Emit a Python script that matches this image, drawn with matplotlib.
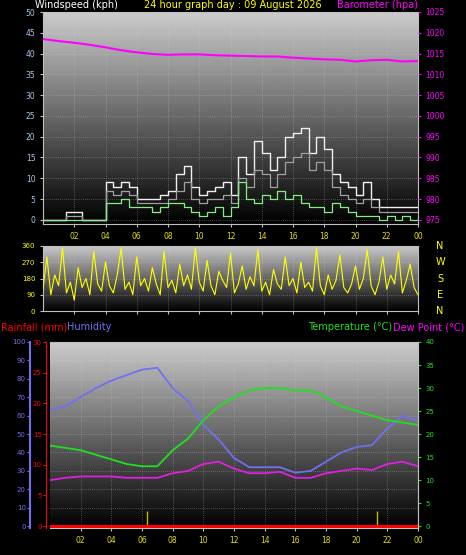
"""24-hour weather station graph: wind/baro, wind direction, temp/humidity/rain."""

import matplotlib

matplotlib.use("Agg")
import matplotlib.pyplot as plt
import numpy as np

W, H = 466, 555

HOURS = list(range(25))
HALF_HOURS = [h * 0.5 for h in range(49)]
QUARTER_HOURS = [h * 0.25 for h in range(97)]

BARO = [1018.5, 1018.0, 1017.6, 1017.1, 1016.5, 1015.8, 1015.3, 1014.9, 1014.7,
        1014.8, 1014.8, 1014.6, 1014.5, 1014.4, 1014.3, 1014.3, 1014.0, 1013.8,
        1013.6, 1013.5, 1013.1, 1013.4, 1013.5, 1013.1, 1013.2]

GUST = [0, 0, 0, 2, 2, 0, 0, 0, 9, 8, 9, 8, 5, 5, 5, 6, 7, 11, 13, 8, 6, 7, 8, 9,
        6, 15, 11, 19, 16, 12, 15, 20, 21, 22, 16, 20, 17, 11, 9, 8, 6, 9, 5, 3,
        3, 3, 3, 3, 3]
WIND_AVG = [0, 0, 0, 1, 1, 0, 0, 0, 7, 6, 7, 6, 4, 4, 4, 4, 5, 7, 9, 5, 4, 5, 5, 6,
            4, 10, 8, 12, 11, 8, 11, 14, 15, 16, 12, 14, 12, 8, 6, 5, 4, 5, 3, 2,
            2, 2, 2, 2, 2]
WIND = [0, 0, 0, 0, 0, 0, 0, 0, 4, 4, 5, 3, 3, 3, 2, 3, 4, 4, 3, 2, 1, 2, 3, 1,
        3, 9, 5, 4, 6, 5, 7, 5, 6, 4, 3, 3, 2, 4, 3, 2, 1, 1, 1, 0, 1, 0, 1, 0, 1]

WIND_DIR = [120, 300, 90, 200, 140, 350, 100, 160, 60, 240, 130, 180, 90, 330, 150,
            110, 270, 140, 100, 200, 350, 120, 160, 90, 300, 140, 180, 110, 240, 150,
            90, 330, 130, 170, 100, 260, 140, 200, 120, 350, 160, 110, 280, 140, 90,
            220, 170, 130, 320, 100, 150, 250, 120, 190, 140, 340, 110, 160, 90, 230,
            150, 120, 300, 140, 180, 100, 270, 130, 160, 110, 350, 140, 90, 200, 120,
            170, 310, 130, 100, 150, 250, 120, 180, 340, 140, 90, 160, 300, 120, 200,
            150, 330, 100, 170, 260, 130, 90]

HUMIDITY = [63, 65, 70, 75, 79, 82, 85, 86, 75, 68, 55, 47, 37, 32, 32, 32, 29, 30,
            35, 40, 43, 44, 53, 60, 57]
TEMP = [17.5, 17.0, 16.5, 15.5, 14.5, 13.5, 13.0, 13.0, 16.5, 19.0, 23.0, 26.0,
        28.0, 29.5, 30.0, 30.0, 29.5, 29.5, 28.0, 26.0, 25.0, 24.0, 23.0, 22.5, 22.0]
DEW = [10.0, 10.5, 10.8, 10.8, 10.8, 10.5, 10.5, 10.5, 11.5, 12.0, 13.5, 14.0,
       12.5, 11.5, 11.5, 11.8, 10.5, 10.5, 11.5, 12.0, 12.5, 12.2, 13.5, 14.0, 13.0]
RAIN = [0] * 25
RAIN_MARKS = [6.3, 21.3]

XTICKS = list(range(2, 25, 2))
XLABELS = [f"{h % 24:02d}" for h in XTICKS]


def px_axes(fig, x0, y0, x1, y1):
    return fig.add_axes([x0 / W, 1 - y1 / H, (x1 - x0) / W, (y1 - y0) / H])


def backdrop(ax, ymin, ymax):
    grad = np.linspace(0.80, 0.0, 256).reshape(-1, 1)
    ax.imshow(grad, cmap="gray", vmin=0, vmax=1, aspect="auto",
              extent=[0, 24, ymin, ymax], zorder=0)
    ax.set_facecolor("black")
    for s in ax.spines.values():
        s.set_color("#c0c0c0")
    ax.grid(True, color="#d0d0d0", linestyle=(0, (1, 2)), linewidth=0.5, alpha=0.6)
    ax.set_xlim(0, 24)
    ax.set_ylim(ymin, ymax)
    ax.set_xticks(XTICKS, XLABELS)
    ax.tick_params(axis="x", colors="#c0c0c0", labelcolor="#e0e000", labelsize=5.5,
                   length=2)


fig = plt.figure(figsize=(W / 100, H / 100), dpi=100, facecolor="black")

# top: wind speed + barometer
ax1 = px_axes(fig, 43, 12, 418, 224)
backdrop(ax1, -1, 50)
ax1.step(HALF_HOURS, GUST, where="post", color="#f0f0f0", lw=1.0, zorder=3)
ax1.step(HALF_HOURS, WIND_AVG, where="post", color="#a0a0a0", lw=0.9, zorder=3)
ax1.step(HALF_HOURS, WIND, where="post", color="#80f080", lw=0.9, zorder=4)
ax1.set_yticks(range(0, 51, 5))
ax1.tick_params(axis="y", colors="#c0c0c0", labelcolor="#a8c8f0", labelsize=5.5,
                length=2)
ax1b = ax1.twinx()
ax1b.set_ylim(974.0, 1025)
ax1b.plot(HOURS, BARO, color="#ff00ff", lw=1.5, zorder=5)
ax1b.set_yticks(range(975, 1026, 5))
ax1b.tick_params(axis="y", colors="#ff00ff", labelcolor="#ff00ff", labelsize=5.5,
                 length=2)
for s in ax1b.spines.values():
    s.set_visible(False)

fig.text(35 / W, 1 - 5 / H, "Windspeed (kph)", color="white", fontsize=7, va="center")
fig.text(233 / W, 1 - 5 / H, "24 hour graph day : 09 August 2026", color="#ffff00",
         fontsize=7, va="center", ha="center")
fig.text(418 / W, 1 - 5 / H, "Barometer (hpa)", color="#ff00ff", fontsize=7,
         va="center", ha="right")

# middle: wind direction
ax2 = px_axes(fig, 43, 246, 418, 311)
backdrop(ax2, 0, 360)
ax2.plot(QUARTER_HOURS, WIND_DIR, color="#ffff00", lw=0.8, zorder=3)
ax2.set_yticks([0, 90, 180, 270, 360])
ax2.set_xticklabels([])
ax2.tick_params(axis="y", colors="#c0c0c0", labelcolor="#ffff00", labelsize=5,
                length=2)
for i, c in enumerate("NWSEN"):
    fig.text(440 / W, 1 - (246 + i * 16.25) / H, c, color="#ffff00", fontsize=7,
             va="center", ha="center")

# bottom: temperature, humidity, rainfall
ax3 = px_axes(fig, 50, 342, 418, 528)
backdrop(ax3, -1, 100)
ax3.plot(HOURS, HUMIDITY, color="#7070f0", lw=1.3, zorder=3)
ax3.vlines(RAIN_MARKS, 0, 8, color="#c8b400", lw=1.0, zorder=3)
ax3.set_yticks(range(0, 101, 10))
ax3.tick_params(axis="y", colors="#7070f0", labelcolor="#7070f0", labelsize=5,
                length=2, pad=1)
ax3.spines["left"].set_color("#7070f0")
ax3.spines["left"].set_linewidth(1.5)
ax3.spines["left"].set_position(("outward", 14.4))

axr = ax3.twinx()
axr.set_ylim(-0.3, 30)
axr.plot(HOURS, RAIN, color="#ff0000", lw=2.2, zorder=4)
axr.yaxis.set_ticks_position("left")
axr.set_yticks(range(0, 31, 5))
axr.tick_params(axis="y", colors="#ff0000", labelcolor="#ff0000", labelsize=5,
                length=2, pad=1)
axr.spines["left"].set_color("#ff0000")
axr.spines["left"].set_position(("outward", 3))
for k in ("right", "top", "bottom"):
    axr.spines[k].set_visible(False)

axt = ax3.twinx()
axt.set_ylim(-0.4, 40)
axt.plot(HOURS, TEMP, color="#20e020", lw=1.3, zorder=4)
axt.plot(HOURS, DEW, color="#e020e0", lw=1.3, zorder=4)
axt.set_yticks(range(0, 41, 5))
axt.tick_params(axis="y", colors="#20e020", labelcolor="#20e020", labelsize=5,
                length=2)
for k in ("left", "top", "bottom"):
    axt.spines[k].set_visible(False)
axt.spines["right"].set_color("#c0c0c0")

fig.text(1 / W, 1 - 327 / H, "Rainfall (mm)", color="#ff0000", fontsize=7, va="center")
fig.text(67 / W, 1 - 327 / H, "Humidity", color="#7070f0", fontsize=7, va="center")
fig.text(392 / W, 1 - 327 / H, "Temperature (°C)", color="#20e020", fontsize=7,
         va="center", ha="right")
fig.text(464 / W, 1 - 327 / H, "Dew Point (°C)", color="#ff00ff", fontsize=7,
         va="center", ha="right")

fig.savefig("out.png", dpi=100, facecolor="black")
